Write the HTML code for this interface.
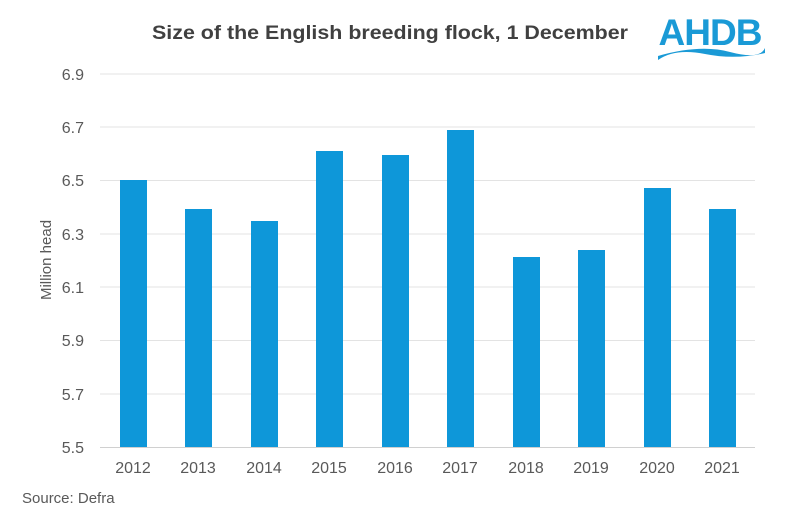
<!DOCTYPE html><html><head><style>body{margin:0;background:#fff}svg{display:block}text{font-family:"Liberation Sans",Arial,sans-serif}</style></head><body>
<svg width="790" height="526" viewBox="0 0 790 526">
<rect width="790" height="526" fill="#fff"/>
<text x="152" y="39" font-size="19" font-weight="bold" fill="#404040" textLength="476" lengthAdjust="spacingAndGlyphs">Size of the English breeding flock, 1 December</text>
<text x="710" y="45" text-anchor="middle" font-size="37" font-weight="bold" fill="#1a9ad6" letter-spacing="-1">AHDB</text>
<path d="M658 56 Q700 44 730 52 T765 48 L765 53 Q735 60 705 54 T658 60 Z" fill="#1a9ad6"/>
<g stroke="#e3e3e3" stroke-width="1">
<line x1="100" x2="755" y1="74" y2="74"/><line x1="100" x2="755" y1="127" y2="127"/><line x1="100" x2="755" y1="180.5" y2="180.5"/><line x1="100" x2="755" y1="234" y2="234"/><line x1="100" x2="755" y1="287" y2="287"/><line x1="100" x2="755" y1="340.5" y2="340.5"/><line x1="100" x2="755" y1="394" y2="394"/></g>
<line x1="100" x2="755" y1="447.5" y2="447.5" stroke="#d0d0d0"/>
<g font-size="16" fill="#595959" text-anchor="end">
<text x="84" y="80">6.9</text><text x="84" y="133">6.7</text><text x="84" y="186">6.5</text><text x="84" y="240">6.3</text><text x="84" y="293">6.1</text><text x="84" y="346">5.9</text><text x="84" y="400">5.7</text><text x="84" y="453">5.5</text></g>
<text transform="translate(51,260) rotate(-90)" text-anchor="middle" font-size="15" fill="#595959">Million head</text>
<g fill="#0e97d9">
<rect x="120" y="180" width="27" height="267"/>
<rect x="185" y="209" width="27" height="238"/>
<rect x="251" y="221" width="27" height="226"/>
<rect x="316" y="151" width="27" height="296"/>
<rect x="382" y="155" width="27" height="292"/>
<rect x="447" y="130" width="27" height="317"/>
<rect x="513" y="257" width="27" height="190"/>
<rect x="578" y="250" width="27" height="197"/>
<rect x="644" y="188" width="27" height="259"/>
<rect x="709" y="209" width="27" height="238"/>
</g>
<g font-size="16" fill="#595959" text-anchor="middle">
<text x="133" y="473">2012</text><text x="198" y="473">2013</text><text x="264" y="473">2014</text><text x="329" y="473">2015</text><text x="395" y="473">2016</text><text x="460" y="473">2017</text><text x="526" y="473">2018</text><text x="591" y="473">2019</text><text x="657" y="473">2020</text><text x="722" y="473">2021</text></g>
<text x="22" y="503" font-size="15" fill="#595959">Source: Defra</text>
</svg></body></html>
